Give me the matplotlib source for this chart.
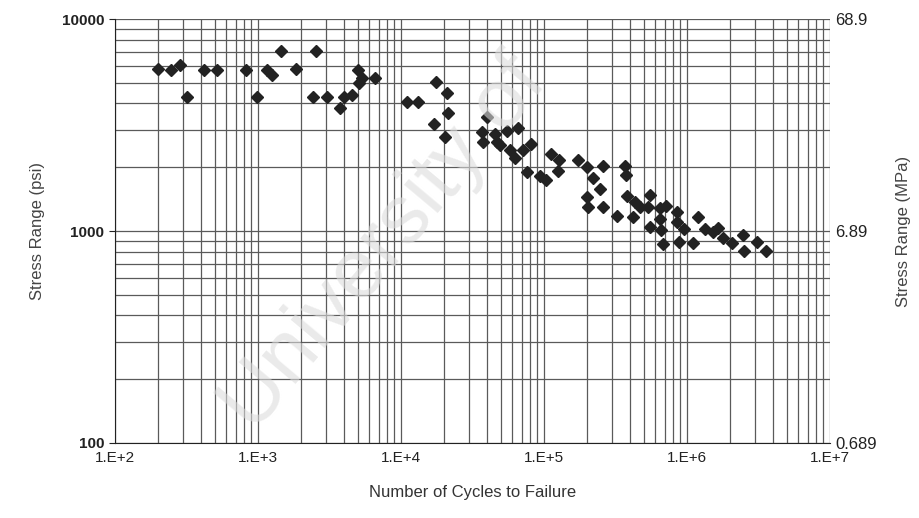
import matplotlib
matplotlib.use("Agg")
import matplotlib.pyplot as plt
from matplotlib.ticker import LogLocator, FixedLocator, NullFormatter

plt.rcParams['font.family'] = ['Liberation Sans', 'DejaVu Sans']

# fatigue test results: cycles to failure vs stress range (psi)
cycles = [200, 246, 285, 319, 419, 517, 824, 984, 1156, 1253,
          1448, 1844, 2544, 2424, 3038, 3745, 3995, 4543, 5005, 5085,
          5338, 6580, 11020, 13150, 17570, 20970, 21320, 17010, 20310, 39950,
          36850, 37450, 45430, 55100, 65800, 46930, 49240, 57840, 62690, 71300,
          81150, 76050, 93770, 103300, 111900, 127400, 125300, 172900, 199800, 258600,
          220100, 246400, 199800, 203100, 258600, 323900, 368400, 374400, 380500, 432900,
          469200, 419200, 551200, 533700, 551200, 647500, 713000, 647500, 658000, 679600,
          851400, 851400, 952800, 879500, 1101000, 1194000, 1336000, 1520000, 1647000, 1785000,
          2064000, 2464000, 2504000, 3087000, 3567000]
stress = [5800, 5750, 6100, 4300, 5750, 5750, 5750, 4300, 5750, 5450,
          7100, 5800, 7100, 4300, 4300, 3800, 4300, 4400, 5750, 5000,
          5300, 5300, 4050, 4050, 5050, 4500, 3600, 3200, 2780, 3450,
          2930, 2630, 2870, 2960, 3060, 2630, 2550, 2410, 2210, 2410,
          2570, 1900, 1820, 1740, 2310, 2160, 1920, 2160, 2000, 2030,
          1780, 1580, 1450, 1300, 1300, 1180, 2030, 1840, 1460, 1370,
          1300, 1160, 1480, 1300, 1040, 1280, 1310, 1140, 1010, 870,
          1230, 1100, 1020, 890, 880, 1160, 1020, 990, 1030, 930,
          880, 960, 805, 890, 805]

x_ticks = [1e2, 1e3, 1e4, 1e5, 1e6, 1e7]
x_labels = ['1.E+2', '1.E+3', '1.E+4', '1.E+5', '1.E+6', '1.E+7']
psi_ticks = [100, 1000, 10000]
mpa_ticks = [0.689, 6.89, 68.9]

fig = plt.figure(figsize=(9.19, 5.18), dpi=100)
ax = fig.add_subplot(111)
fig.subplots_adjust(left=0.125, right=0.903, top=0.963, bottom=0.145)

ax.set_xscale('log')
ax.set_yscale('log')
ax.set_xlim(1e2, 1e7)
ax.set_ylim(100, 10000)

ax.xaxis.set_major_locator(FixedLocator(x_ticks))
ax.set_xticklabels(x_labels)
ax.xaxis.set_minor_locator(LogLocator(base=10, subs=range(2, 10), numticks=20))
ax.xaxis.set_minor_formatter(NullFormatter())
ax.yaxis.set_major_locator(FixedLocator(psi_ticks))
ax.set_yticklabels([str(v) for v in psi_ticks], fontweight='bold')
ax.yaxis.set_minor_locator(LogLocator(base=10, subs=range(2, 10), numticks=20))
ax.yaxis.set_minor_formatter(NullFormatter())

ax.grid(True, which='both', color='#5a5a5a', lw=0.9)
ax.set_axisbelow(True)

ax.plot(cycles, stress, 'D', color='#222222', ms=6.5, zorder=3)

for s in ['top', 'right']:
    ax.spines[s].set_visible(False)
ax.spines['left'].set_color('#222222')
ax.spines['bottom'].set_color('#222222')
ax.tick_params(axis='both', which='minor', length=0)
ax.tick_params(axis='x', which='major', length=0, labelsize=11, pad=6, colors='#222222')
ax.tick_params(axis='y', which='major', length=4, labelsize=11, colors='#222222')

ax.set_xlabel('Number of Cycles to Failure', fontsize=12, color='#333333', labelpad=14)
ax.set_ylabel('Stress Range (psi)', fontsize=12, color='#444444', labelpad=12)

ax2 = ax.twinx()
ax2.set_yscale('log')
ax2.set_ylim(0.689, 68.9)
ax2.yaxis.set_major_locator(FixedLocator(mpa_ticks))
ax2.set_yticklabels([str(v) for v in mpa_ticks])
ax2.yaxis.set_minor_locator(FixedLocator([]))
ax2.tick_params(axis='y', length=0, labelsize=12, colors='#222222', pad=4)
for s in ax2.spines.values():
    s.set_visible(False)
ax2.set_ylabel('Stress Range (MPa)', fontsize=12, color='#444444', labelpad=14)

# faint scan watermark
fig.text(0.225, 0.14, 'University of', fontsize=60, color='#dcdcdc',
         rotation=50, ha='left', va='bottom', zorder=10, alpha=0.6)

fig.savefig('out.png', dpi=100)
